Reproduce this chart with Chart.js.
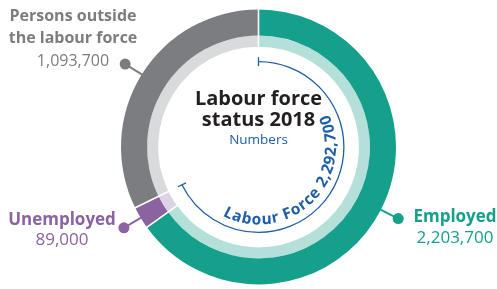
<!DOCTYPE html>
<html>
<head>
<meta charset="utf-8">
<script src="https://cdn.jsdelivr.net/npm/chart.js"></script>
<style>
  html, body { margin: 0; padding: 0; background: #fff; }
  #wrap { width: 497px; height: 289px; position: relative; }
</style>
</head>
<body>
<div id="wrap"><canvas id="chart"></canvas></div>
<script>
// Data
const categories = ['Employed', 'Unemployed', 'Persons outside the labour force'];
const values = [2203700, 89000, 1093700];
const valueLabels = ['2,203,700', '89,000', '1,093,700'];
const labourForceLabel = 'Labour Force 2,292,700';

// Colours
const darkColors = ['#15a08b', '#8a63a0', '#7c7d81'];
const lightColors = ['#b4e0d9', '#dcd3e6', '#d9dadc'];
const blue = '#1d5ea6';
const FONT = '"Open Sans", "Noto Sans", sans-serif';

const decor = {
  id: 'decor',
  afterDatasetsDraw(chart) {
    const ctx = chart.ctx;
    const outer = chart.getDatasetMeta(0).data;
    const inner = chart.getDatasetMeta(1).data;
    const cx = outer[0].x, cy = outer[0].y;
    const R = outer[0].outerRadius;
    const rIn = inner[0].innerRadius;
    const pt = (a, r) => [cx + r * Math.cos(a), cy + r * Math.sin(a)];

    ctx.save();
    // white separators across both rings
    ctx.strokeStyle = '#fff';
    ctx.lineWidth = 1.6;
    outer.forEach(arc => {
      const [x1, y1] = pt(arc.startAngle, rIn - 1);
      const [x2, y2] = pt(arc.startAngle, R + 1);
      ctx.beginPath(); ctx.moveTo(x1, y1); ctx.lineTo(x2, y2); ctx.stroke();
    });

    // labour force bracket (employed + unemployed)
    const a0 = outer[0].startAngle, a1 = outer[1].endAngle;
    const rb = rIn - 15;
    ctx.strokeStyle = blue;
    ctx.lineWidth = 1.3;
    ctx.beginPath(); ctx.arc(cx, cy, rb, a0, a1); ctx.stroke();
    [a0, a1].forEach(a => {
      const [x1, y1] = pt(a, rb - 4.5);
      const [x2, y2] = pt(a, rb + 4.5);
      ctx.beginPath(); ctx.moveTo(x1, y1); ctx.lineTo(x2, y2); ctx.stroke();
    });

    // curved label inside the bracket
    ctx.font = 'bold 15.5px ' + FONT;
    ctx.fillStyle = blue;
    ctx.textAlign = 'left';
    ctx.textBaseline = 'alphabetic';
    const rt = rb - 8;
    const gap = 0.8;
    const chars = labourForceLabel.split('');
    const widths = chars.map(c => ctx.measureText(c).width + gap);
    const total = widths.reduce((s, w) => s + w, 0);
    let ang = Math.PI / 4 + 0.02 + (total / rt) / 2;
    chars.forEach((c, i) => {
      const [x, y] = pt(ang, rt);
      ctx.save();
      ctx.translate(x, y);
      ctx.rotate(ang - Math.PI / 2);
      ctx.fillText(c, 0, 0);
      ctx.restore();
      ang -= widths[i] / rt;
    });

    // leader lines and dots
    outer.forEach((arc, i) => {
      const mid = (arc.startAngle + arc.endAngle) / 2;
      const [x1, y1] = pt(mid, R - 2);
      const [x2, y2] = pt(mid, R + 19.5);
      ctx.strokeStyle = darkColors[i];
      ctx.lineWidth = 2;
      ctx.beginPath(); ctx.moveTo(x1, y1); ctx.lineTo(x2, y2); ctx.stroke();
      ctx.fillStyle = darkColors[i];
      ctx.beginPath(); ctx.arc(x2, y2, 5.5, 0, Math.PI * 2); ctx.fill();
    });

    // category labels
    ctx.textAlign = 'center';
    const label = (lines, x, ys, size, color) => {
      ctx.fillStyle = color;
      lines.forEach((l, i) => {
        ctx.font = (l.bold ? 'bold ' : '') + size + 'px ' + FONT;
        ctx.fillText(l.t, x, ys[i]);
      });
    };
    label([{ t: 'Persons outside', bold: true }, { t: 'the labour force', bold: true }, { t: valueLabels[2] }],
      73, [21, 43, 66], 16, darkColors[2]);
    label([{ t: 'Unemployed', bold: true }, { t: valueLabels[1] }], 62, [225, 245], 17, darkColors[1]);
    label([{ t: categories[0], bold: true }, { t: valueLabels[0] }], 455, [222, 243], 17, darkColors[0]);

    // centre title
    ctx.fillStyle = '#231f20';
    ctx.font = 'bold 20px ' + FONT;
    ctx.fillText('Labour force', cx, 105);
    ctx.fillText('status 2018', cx, 126);
    ctx.fillStyle = blue;
    ctx.font = '13.5px ' + FONT;
    ctx.fillText('Numbers', cx, 144);
    ctx.restore();
  }
};

new Chart(document.getElementById('chart'), {
  type: 'doughnut',
  data: {
    labels: categories,
    datasets: [
      { data: values, backgroundColor: darkColors, borderWidth: 0, weight: 26 },
      { data: values, backgroundColor: lightColors, borderWidth: 0, weight: 11 }
    ]
  },
  options: {
    responsive: true,
    maintainAspectRatio: false,
    animation: false,
    cutout: '73%',
    layout: { padding: { top: 9, bottom: 4, left: 121, right: 101 } },
    plugins: { legend: { display: false }, tooltip: { enabled: false } }
  },
  plugins: [decor]
});
</script>
</body>
</html>
